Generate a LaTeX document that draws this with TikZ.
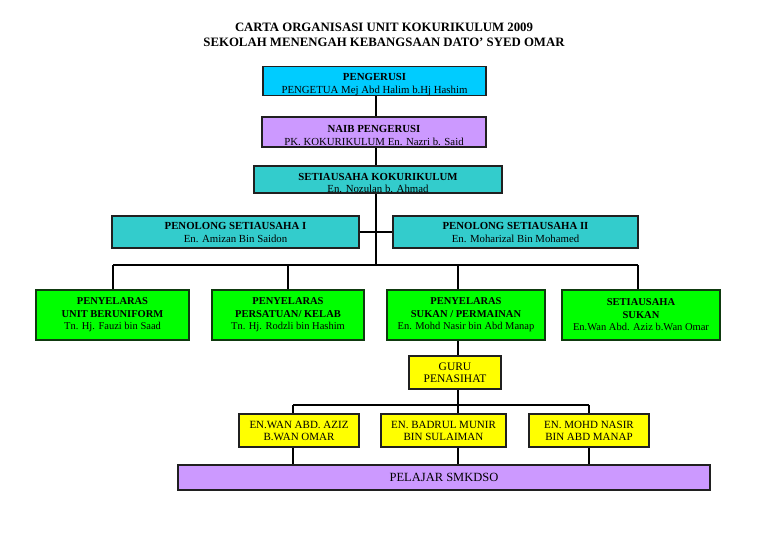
\documentclass[tikz,border=0pt]{standalone}
\usepackage{fontspec}
\setmainfont{Liberation Serif}
\definecolor{cCyan}{HTML}{00CCFF}
\definecolor{cLav}{HTML}{CC99FF}
\definecolor{cTeal}{HTML}{33CCCC}
\definecolor{cGreen}{HTML}{00FF00}
\definecolor{cYel}{HTML}{FFFF00}
\definecolor{cEdge}{HTML}{202020}
\definecolor{cGEdge}{HTML}{0F3A0F}
\newcommand{\tstrut}{\rule{0pt}{14pt}}
\tikzset{
  box/.style={draw=cEdge, line width=1.2pt, align=center, inner sep=0pt,
    font=\fontsize{10.8}{13}\selectfont, text=black},
  gbox/.style={box, draw=cGEdge, fill=cGreen, minimum height=50pt,
    font=\fontsize{10.5}{12.5}\selectfont},
  ybox/.style={box, fill=cYel, minimum height=33pt,
    font=\fontsize{11}{12}\selectfont},
  conn/.style={line width=1.6pt, black},
  ttl/.style={font=\fontsize{12.8}{15}\selectfont\bfseries, align=center}
}
\begin{document}
\begin{tikzpicture}[x=1pt,y=-1pt]
\useasboundingbox (0,0) rectangle (768,543);
% title
\node[ttl] (t1) at (384,27) {CARTA ORGANISASI UNIT KOKURIKULUM 2009};
\node[ttl] (t2) at (384,42) {SEKOLAH MENENGAH KEBANGSAAN DATO' SYED OMAR};
% top boxes
\node[box, fill=cCyan, minimum width=223pt, minimum height=28pt] (peng) at (374.5,81)
  {\tstrut\textbf{PENGERUSI}\\PENGETUA Mej Abd Halim b.Hj Hashim};
\node[box, fill=cLav, minimum width=224pt, minimum height=30pt] (naib) at (374,132)
  {\tstrut\textbf{NAIB PENGERUSI}\\PK. KOKURIKULUM En. Nazri b. Said};
\node[box, fill=cTeal, minimum width=248pt, minimum height=27pt, font=\fontsize{10.8}{11.5}\selectfont] (setia) at (378,179.5)
  {\tstrut\textbf{SETIAUSAHA KOKURIKULUM}\\En. Nozulan b. Ahmad};
\node[box, fill=cTeal, minimum width=247pt, minimum height=32pt] (pen1) at (235.5,232)
  {\textbf{PENOLONG SETIAUSAHA I}\\En. Amizan Bin Saidon};
\node[box, fill=cTeal, minimum width=245pt, minimum height=32pt] (pen2) at (515.5,232)
  {\textbf{PENOLONG SETIAUSAHA II}\\En. Moharizal Bin Mohamed};
% green boxes
\node[gbox, minimum width=153pt] (g1) at (112.5,315)
  {\textbf{PENYELARAS}\\\textbf{UNIT BERUNIFORM}\\Tn. Hj. Fauzi bin Saad};
\node[gbox, minimum width=152pt] (g2) at (288,315)
  {\textbf{PENYELARAS}\\\textbf{PERSATUAN/ KELAB}\\Tn. Hj. Rodzli bin Hashim};
\node[gbox, minimum width=158pt] (g3) at (466,315)
  {\textbf{PENYELARAS}\\\textbf{SUKAN / PERMAINAN}\\En. Mohd Nasir bin Abd Manap};
\node[gbox, minimum width=158pt] (g4) at (641,315)
  {\textbf{SETIAUSAHA}\\\textbf{SUKAN}\\En.Wan Abd. Aziz b.Wan Omar};
% guru and yellow boxes
\node[ybox, minimum width=92pt, font=\fontsize{11.5}{12.5}\selectfont] (guru) at (455,372.5) {GURU\\PENASIHAT};
\node[ybox, minimum width=120pt] (ya) at (299,430.5) {EN.WAN ABD. AZIZ\\B.WAN OMAR};
\node[ybox, minimum width=125pt] (yb) at (443.5,430.5) {EN. BADRUL MUNIR\\BIN SULAIMAN};
\node[ybox, minimum width=120pt] (yc) at (589,430.5) {EN. MOHD NASIR\\BIN ABD MANAP};
\node[box, fill=cLav, minimum width=532pt, minimum height=25pt, font=\fontsize{12.5}{14}\selectfont] (pel) at (444,477.5) {PELAJAR SMKDSO};
% helper coordinates
\coordinate (sp) at (376,0);
\coordinate (barL) at (113,265);
\coordinate (barR) at (638,265);
\coordinate (bar2) at (288,265);
\coordinate (bar3) at (458,265);
\coordinate (bar4) at (638,265);
\coordinate (c3) at (458,0);
\coordinate (ybL) at (293,405);
\coordinate (ybR) at (589,405);
\coordinate (ybM) at (458,405);
% connectors
\draw[conn] (peng.south -| sp) -- (naib.north -| sp);
\draw[conn] (naib.south -| sp) -- (setia.north -| sp);
\draw[conn] (setia.south -| sp) -- (barL -| sp);
\draw[conn] (pen1.east) -- (pen2.west);
\draw[conn] (barL) -- (barR);
\draw[conn] (barL) -- (g1.north -| barL);
\draw[conn] (bar2) -- (g2.north -| bar2);
\draw[conn] (bar3) -- (g3.north -| bar3);
\draw[conn] (bar4) -- (g4.north -| bar4);
\draw[conn] (g3.south -| c3) -- (guru.north -| c3);
\draw[conn] (guru.south -| c3) -- (ybM);
\draw[conn] (ybL) -- (ybR);
\draw[conn] (ybL) -- (ya.north -| ybL);
\draw[conn] (ybM) -- (yb.north -| ybM);
\draw[conn] (ybR) -- (yc.north -| ybR);
\draw[conn] (ya.south -| ybL) -- (pel.north -| ybL);
\draw[conn] (yb.south -| ybM) -- (pel.north -| ybM);
\draw[conn] (yc.south -| ybR) -- (pel.north -| ybR);
\end{tikzpicture}
\end{document}
